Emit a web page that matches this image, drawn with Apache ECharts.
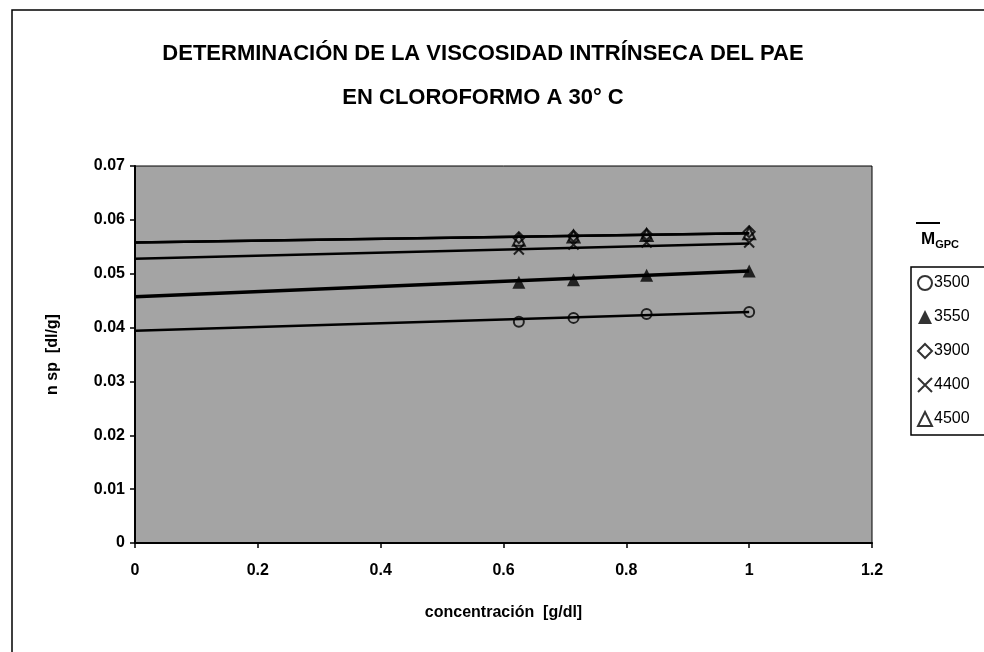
<!DOCTYPE html>
<html>
<head>
<meta charset="utf-8">
<script src="https://cdn.jsdelivr.net/npm/echarts@6/dist/echarts.min.js"></script>
<style>
  html, body { margin: 0; padding: 0; background: #fff; }
  #chart { width: 984px; height: 652px; }
</style>
</head>
<body>
<div id="chart"></div>
<script>
// concentraciones [g/dl]
var conc = [0.625, 0.714, 0.833, 1.0];

// etiquetas de la leyenda (M GPC)
var names = ['3500', '3550', '3900', '4400', '4500'];

// viscosidad especifica reducida por serie
var v3500 = [0.0411, 0.0418, 0.0425, 0.0429];
var v3550 = [0.0484, 0.0489, 0.0497, 0.0505];
var v3900 = [0.0567, 0.0570, 0.0573, 0.0578];
var v4400 = [0.0545, 0.0554, 0.0558, 0.0558];
var v4500 = [0.0563, 0.0569, 0.0572, 0.0575];

// lineas de tendencia: valor en c=0 y en c=1
var trendStart = [0.0394, 0.0457, 0.0558, 0.0528, 0.0558];
var trendEnd   = [0.0429, 0.0505, 0.0575, 0.0556, 0.0575];

var allValues = [v3500, v3550, v3900, v4400, v4500];

var symbols = [
  'circle',
  'triangle',
  'diamond',
  'path://M0,0L10,10M10,0L0,10',
  'triangle'
];
var filled = [false, true, false, false, false];
var sizes = [10, 13, 11, 10, 12];
var trendWidth = [2.5, 3.5, 2.5, 2.5, 2.5];

var myChart = echarts.init(document.getElementById('chart'));

var series = [];
for (var i = 0; i < names.length; i++) {
  var pts = [];
  for (var j = 0; j < conc.length; j++) {
    pts.push([conc[j], allValues[i][j]]);
  }
  series.push({
    name: names[i] + '_trend',
    type: 'line',
    data: [[0, trendStart[i]], [1, trendEnd[i]]],
    symbol: 'none',
    silent: true,
    lineStyle: { color: '#000', width: trendWidth[i] },
    z: 2
  });
  series.push({
    name: names[i],
    type: 'scatter',
    data: pts,
    symbol: symbols[i],
    symbolSize: sizes[i],
    itemStyle: filled[i]
      ? { color: '#000' }
      : { color: 'rgba(0,0,0,0)', borderColor: '#000', borderWidth: 2 },
    z: 3
  });
}

var fontFam = '"Liberation Sans", Arial, sans-serif';

var option = {
  backgroundColor: '#fff',
  animation: false,
  title: [{
    text: 'DETERMINACIÓN DE LA VISCOSIDAD INTRÍNSECA DEL PAE',
    left: 478, top: 38, textAlign: 'center',
    textStyle: { fontFamily: fontFam, fontWeight: 'bold', fontSize: 22, color: '#000' }
  }, {
    text: 'EN CLOROFORMO A 30° C',
    left: 478, top: 82, textAlign: 'center',
    textStyle: { fontFamily: fontFam, fontWeight: 'bold', fontSize: 22, color: '#000' }
  }],
  grid: {
    left: 135, right: 112, top: 166, bottom: 109,
    show: true,
    backgroundColor: '#a4a4a4',
    borderColor: '#000',
    borderWidth: 1
  },
  xAxis: {
    type: 'value',
    min: 0, max: 1.2, interval: 0.2,
    name: 'concentración  [g/dl]',
    nameLocation: 'middle',
    nameGap: 62,
    nameTextStyle: { fontFamily: fontFam, fontWeight: 'bold', fontSize: 16, color: '#000' },
    axisLine: { lineStyle: { color: '#000', width: 2 } },
    axisTick: { show: true, length: 5, lineStyle: { color: '#000', width: 1.5 } },
    splitLine: { show: false },
    axisLabel: {
      margin: 20,
      fontFamily: fontFam, fontWeight: 'bold', fontSize: 16, color: '#000',
      formatter: function (v) { return String(Math.round(v * 10) / 10); }
    }
  },
  yAxis: {
    type: 'value',
    min: 0, max: 0.07, interval: 0.01,
    name: 'n sp  [dl/g]',
    nameLocation: 'middle',
    nameGap: 74,
    nameTextStyle: { fontFamily: fontFam, fontWeight: 'bold', fontSize: 16, color: '#000' },
    axisLine: { show: true, lineStyle: { color: '#000', width: 2 } },
    axisTick: { show: true, length: 5, lineStyle: { color: '#000', width: 1.5 } },
    splitLine: { show: false },
    axisLabel: {
      margin: 10,
      fontFamily: fontFam, fontWeight: 'bold', fontSize: 16, color: '#000',
      formatter: function (v) { return String(Math.round(v * 100) / 100); }
    }
  },
  legend: {
    data: names,
    orient: 'vertical',
    left: 911, top: 267,
    padding: [8, 40, 8, 6],
    itemGap: 18,
    itemWidth: 14, itemHeight: 14,
    borderColor: '#000', borderWidth: 1.5, borderRadius: 0,
    selectedMode: false,
    textStyle: { fontFamily: fontFam, fontSize: 16, color: '#000', padding: [0, 0, 0, -3] }
  },
  graphic: [
    {
      type: 'polyline',
      shape: { points: [[12, 652], [12, 10], [984, 10]] },
      style: { stroke: '#000', lineWidth: 1.5, fill: null }
    },
    {
      type: 'line',
      shape: { x1: 916, y1: 223, x2: 940, y2: 223 },
      style: { stroke: '#000', lineWidth: 2 }
    },
    {
      type: 'text',
      left: 921, top: 231,
      style: {
        text: '{m|M}{s|GPC}',
        rich: {
          m: { fontFamily: fontFam, fontWeight: 'bold', fontSize: 17, fill: '#000' },
          s: { fontFamily: fontFam, fontWeight: 'bold', fontSize: 11, fill: '#000', padding: [10, 0, 0, 0] }
        }
      }
    }
  ],
  series: series
};

myChart.setOption(option);
</script>
</body>
</html>
